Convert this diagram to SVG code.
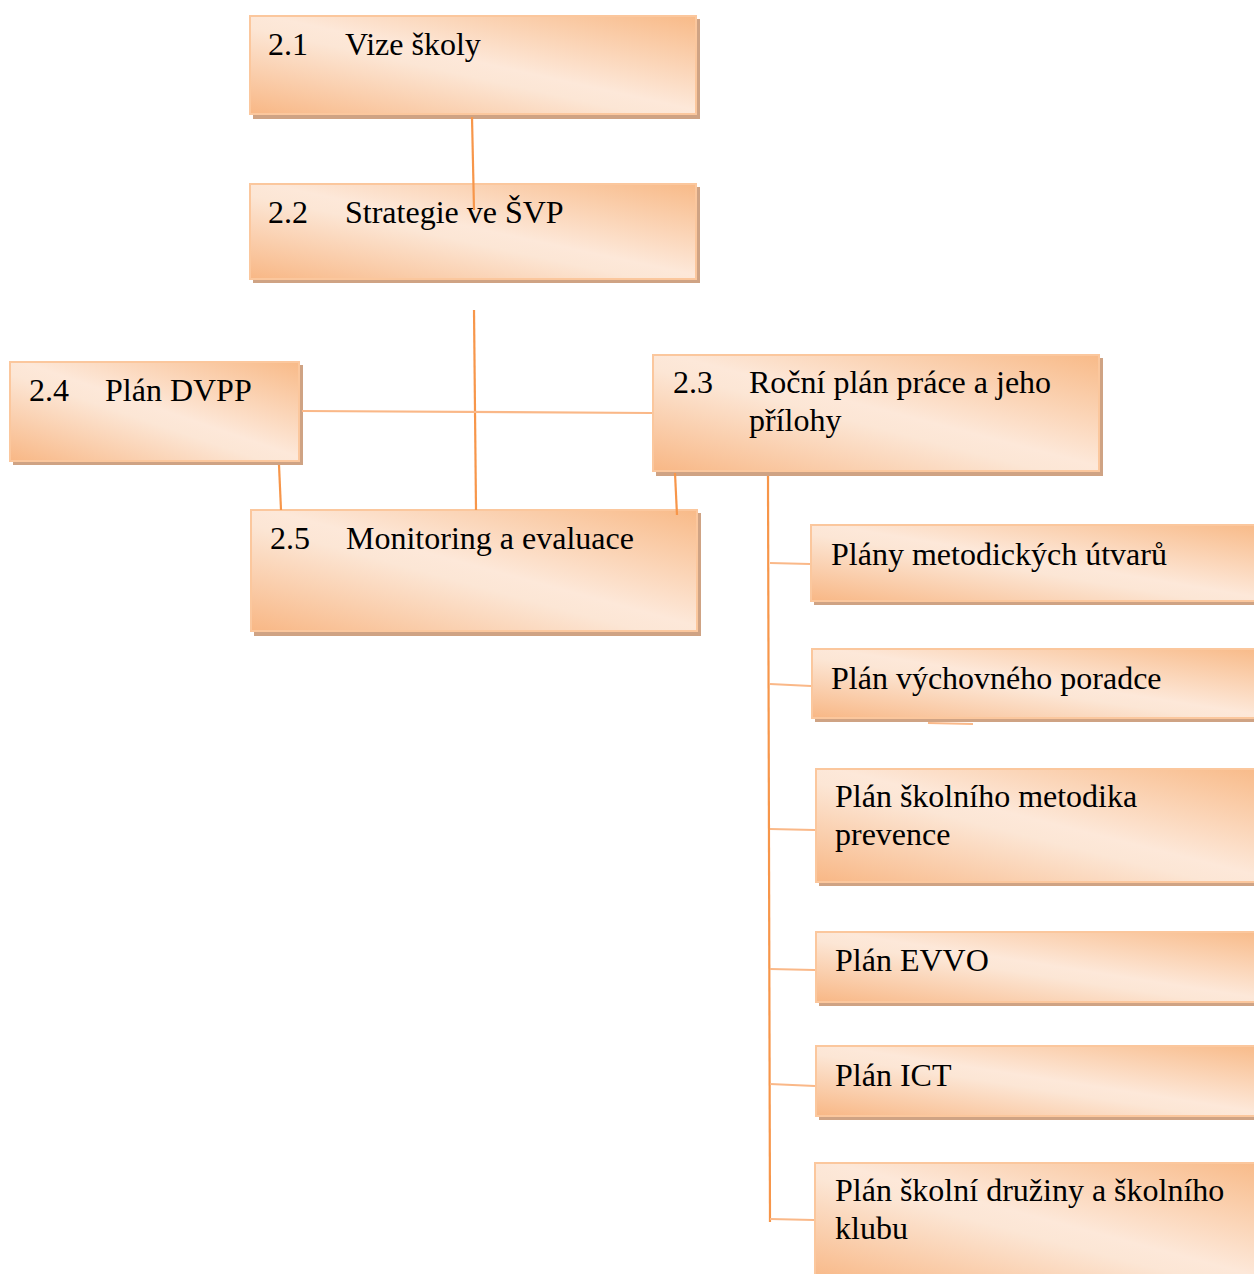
<svg xmlns="http://www.w3.org/2000/svg" width="1254" height="1274" viewBox="0 0 1254 1274">
<defs>
<linearGradient id="g" x1="1" y1="0" x2="0" y2="1">
<stop offset="0" stop-color="#f8ba88"/>
<stop offset="0.48" stop-color="#fde8d9"/>
<stop offset="0.56" stop-color="#fce6d5"/>
<stop offset="1" stop-color="#f8b785"/>
</linearGradient>
<style>
.sh{fill:#cfa384}
.bx{fill:url(#g);stroke:#fbc79d;stroke-width:2}
.t{font-family:"Liberation Serif","Times New Roman",serif;font-size:32px;fill:#000}
.v{stroke:#f7964a;stroke-width:2.2;fill:none}
.h{stroke:#fab888;stroke-width:2.2;fill:none}
</style>
</defs>
<rect width="1254" height="1274" fill="#fff"/>
<g id="n21">
<rect class="sh" x="253" y="19" width="447" height="100"/>
<rect class="bx" x="250" y="16" width="446" height="98"/>
<text class="t" x="268" y="55">2.1</text><text class="t" x="345" y="55">Vize školy</text>
</g>
<g id="n22">
<rect class="sh" x="253" y="187" width="447" height="96"/>
<rect class="bx" x="250" y="184" width="446" height="95"/>
<text class="t" x="268" y="223">2.2</text><text class="t" x="345" y="223">Strategie ve ŠVP</text>
</g>
<g id="n24">
<rect class="sh" x="13" y="365" width="290" height="100"/>
<rect class="bx" x="10" y="362" width="289" height="99"/>
<text class="t" x="29" y="401">2.4</text><text class="t" x="105" y="401">Plán DVPP</text>
</g>
<g id="n23">
<rect class="sh" x="656" y="358" width="447" height="118"/>
<rect class="bx" x="653" y="355" width="446" height="116"/>
<text class="t" x="673" y="393">2.3</text><text class="t" x="749" y="393">Roční plán práce a jeho</text>
<text class="t" x="749" y="431">přílohy</text>
</g>
<g id="n25">
<rect class="sh" x="254" y="513" width="447" height="123"/>
<rect class="bx" x="251" y="510" width="446" height="121"/>
<text class="t" x="270" y="549">2.5</text><text class="t" x="346" y="549">Monitoring a evaluace</text>
</g>
<g id="p1">
<rect class="sh" x="814" y="528" width="450" height="77"/>
<rect class="bx" x="811" y="525" width="450" height="76"/>
<text class="t" x="831" y="565">Plány metodických útvarů</text>
</g>
<g id="p2">
<rect class="sh" x="815" y="652" width="450" height="70"/>
<rect class="bx" x="812" y="649" width="450" height="69"/>
<text class="t" x="831" y="689">Plán výchovného poradce</text>
</g>
<g id="p3">
<rect class="sh" x="819" y="772" width="450" height="114"/>
<rect class="bx" x="816" y="769" width="450" height="113"/>
<text class="t" x="835" y="807">Plán školního metodika</text>
<text class="t" x="835" y="845">prevence</text>
</g>
<g id="p4">
<rect class="sh" x="819" y="935" width="450" height="71"/>
<rect class="bx" x="816" y="932" width="450" height="70"/>
<text class="t" x="835" y="971">Plán EVVO</text>
</g>
<g id="p5">
<rect class="sh" x="819" y="1049" width="450" height="71"/>
<rect class="bx" x="816" y="1046" width="450" height="70"/>
<text class="t" x="835" y="1086">Plán ICT</text>
</g>
<g id="p6">
<rect class="sh" x="818" y="1166" width="450" height="120"/>
<rect class="bx" x="815" y="1163" width="450" height="120"/>
<text class="t" x="835" y="1201">Plán školní družiny a školního</text>
<text class="t" x="835" y="1239">klubu</text>
</g>
<g id="connectors">
<line class="v" x1="472" y1="117" x2="474" y2="210"/>
<line class="v" x1="474" y1="310" x2="476" y2="510"/>
<line class="h" x1="302" y1="411" x2="652" y2="413"/>
<line class="v" x1="279" y1="465" x2="281" y2="510"/>
<line class="v" x1="675" y1="473" x2="677" y2="515"/>
<line class="v" x1="768" y1="476" x2="770" y2="1222"/>
<line class="h" x1="770" y1="563" x2="810" y2="564"/>
<line class="h" x1="770" y1="684" x2="811" y2="686"/>
<line class="h" x1="770" y1="829" x2="815" y2="830"/>
<line class="h" x1="770" y1="969" x2="815" y2="970"/>
<line class="h" x1="770" y1="1084" x2="815" y2="1086"/>
<line class="h" x1="770" y1="1219" x2="814" y2="1220"/>
<line class="h" x1="928" y1="723" x2="973" y2="724"/>
</g>
</svg>
